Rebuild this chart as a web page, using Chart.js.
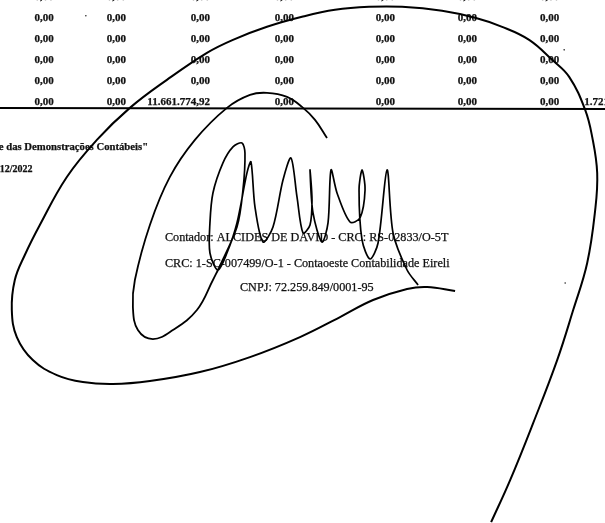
<!DOCTYPE html>
<html>
<head>
<meta charset="utf-8">
<style>
  html, body { margin: 0; padding: 0; background: #fff; overflow: hidden; }
</style>
<script src="https://cdn.jsdelivr.net/npm/chart.js@4"></script>
</head>
<body>
<canvas id="mainChart" width="605" height="523" style="display:block"></canvas>
<script>
// TABELA
const linhas = [-3, 18, 39, 60, 81, 102];
const colunas = [54, 126, 210, 294, 395, 477, 559];
const valoresColuna1 = ["0,00", "0,00", "0,00", "0,00", "0,00", "0,00"];
const valoresColuna2 = ["0,00", "0,00", "0,00", "0,00", "0,00", "0,00"];
const valoresColuna3 = ["0,00", "0,00", "0,00", "0,00", "0,00", "11.661.774,92"];
const valoresColuna4 = ["0,00", "0,00", "0,00", "0,00", "0,00", "0,00"];
const valoresColuna5 = ["0,00", "0,00", "0,00", "0,00", "0,00", "0,00"];
const valoresColuna6 = ["0,00", "0,00", "0,00", "0,00", "0,00", "0,00"];
const valoresColuna7 = ["0,00", "0,00", "0,00", "0,00", "0,00", "0,00"];
const totalFinal = "1.721";

// RODAPE
const notaTexto = "e das Demonstrações Contábeis\"";
const dataTexto = "12/2022";
const contadorTexto = [
  "Contador: ALCIDES DE DAVID - CRC: RS-02833/O-5T",
  "CRC: 1-SC-007499/O-1 - Contaoeste Contabilidade Eireli",
  "CNPJ: 72.259.849/0001-95"
];

// REGUA
const reguaX = [0, 605];
const reguaY = [108, 109];

// TRACO EXTERNO
const externoX = [491, 510, 533, 557, 573, 587, 595, 597, 592, 585, 569, 552, 529, 502, 475, 442, 402, 369, 335, 302, 267, 233, 207, 167, 130, 97, 67, 40, 25, 15, 12, 17, 33, 57, 83, 113, 150, 200, 250, 300, 340, 373, 407, 427, 455];
const externoY = [522, 480, 423, 360, 310, 263, 210, 173, 137, 110, 77, 60, 40, 27, 18, 11, 7, 7, 10, 17, 27, 40, 53, 80, 108, 140, 177, 225, 255, 280, 310, 337, 360, 375, 382, 384, 381, 372, 357, 337, 317, 300, 289, 287, 291];

// TRACO INTERNO
const internoX = [327, 315, 302, 287, 267, 250, 227, 195, 170, 150, 135, 133, 138, 153, 173, 197, 213, 218];
const internoY = [138, 120, 107, 97, 93, 95, 108, 140, 177, 225, 280, 307, 330, 339, 330, 310, 280, 270];

// ASSINATURA
const assinaturaX = [218, 237, 243, 245, 242, 233, 223, 213, 210, 210, 218, 227, 237, 247, 251, 255, 263, 273, 283, 291, 297, 303, 310, 312, 310, 313, 322, 328, 331, 337, 350, 360, 365, 362, 359, 362, 370, 378, 387, 393, 407, 418];
const assinaturaY = [270, 227, 190, 153, 143, 147, 163, 193, 223, 253, 270, 253, 223, 173, 162, 207, 242, 227, 180, 158, 197, 233, 225, 200, 170, 213, 242, 223, 170, 193, 222, 218, 190, 170, 190, 240, 259, 243, 170, 233, 270, 285];

// PONTOS SOLTOS
const sujeiraX = [86, 564, 565];
const sujeiraY = [16, 50, 283];

const juntar = (xs, ys) => xs.map((x, i) => ({ x, y: ys[i] }));

const escreve = (ctx, texto, x, y) => {
  ctx.strokeText(texto, x, y);
  ctx.fillText(texto, x, y);
};

const textoPlugin = {
  id: "texto",
  beforeDatasetsDraw(chart) {
    const { ctx, scales } = chart;
    const px = (v) => scales.x.getPixelForValue(v);
    const py = (v) => scales.y.getPixelForValue(v);
    const tabela = [valoresColuna1, valoresColuna2, valoresColuna3, valoresColuna4, valoresColuna5, valoresColuna6, valoresColuna7];

    ctx.save();
    ctx.fillStyle = "#111";
    ctx.strokeStyle = "#111";
    ctx.lineWidth = 0.25;
    ctx.textBaseline = "middle";

    ctx.font = "bold 11px 'Liberation Serif'";
    ctx.textAlign = "right";
    tabela.forEach((coluna, c) => {
      coluna.forEach((valor, l) => {
        escreve(ctx, valor, px(colunas[c]), py(linhas[l]));
      });
    });
    ctx.textAlign = "left";
    escreve(ctx, totalFinal, px(584), py(linhas[5]));

    ctx.font = "bold 10.7px 'Liberation Serif'";
    escreve(ctx, notaTexto, px(-1), py(147));
    ctx.font = "bold 10px 'Liberation Serif'";
    escreve(ctx, dataTexto, px(0), py(169));

    ctx.font = "12.2px 'Liberation Serif'";
    escreve(ctx, contadorTexto[0], px(165), py(238));
    escreve(ctx, contadorTexto[1], px(165), py(264));
    escreve(ctx, contadorTexto[2], px(240), py(288));
    ctx.restore();
  }
};

const ctx = document.getElementById("mainChart").getContext("2d");

const mainChart = new Chart(ctx, {
  type: "scatter",
  data: {
    datasets: [
      {
        label: "Régua",
        data: juntar(reguaX, reguaY),
        showLine: true,
        borderColor: "#000",
        borderWidth: 2,
        pointRadius: 0,
        clip: false
      },
      {
        label: "Traço externo",
        data: juntar(externoX, externoY),
        showLine: true,
        borderColor: "#000",
        borderWidth: 2,
        tension: 0.4,
        pointRadius: 0,
        clip: false
      },
      {
        label: "Traço interno",
        data: juntar(internoX, internoY),
        showLine: true,
        borderColor: "#000",
        borderWidth: 1.8,
        tension: 0.4,
        pointRadius: 0,
        clip: false
      },
      {
        label: "Assinatura",
        data: juntar(assinaturaX, assinaturaY),
        showLine: true,
        borderColor: "#000",
        borderWidth: 1.7,
        tension: 0.3,
        pointRadius: 0,
        clip: false
      },
      {
        label: "Sujeira",
        data: juntar(sujeiraX, sujeiraY),
        showLine: false,
        backgroundColor: "#222",
        pointRadius: 0.8,
        pointHoverRadius: 0.8,
        pointBorderWidth: 0,
        clip: false
      }
    ]
  },
  options: {
    responsive: false,
    animation: false,
    layout: { padding: 0 },
    plugins: {
      legend: { display: false },
      tooltip: { enabled: false }
    },
    scales: {
      // a linha de 2px deixa 1px de folga em cada lado da area do grafico
      x: { type: "linear", min: 1, max: 604, display: false },
      y: { type: "linear", min: 1, max: 522, reverse: true, display: false }
    }
  },
  plugins: [textoPlugin]
});
</script>
</body>
</html>
